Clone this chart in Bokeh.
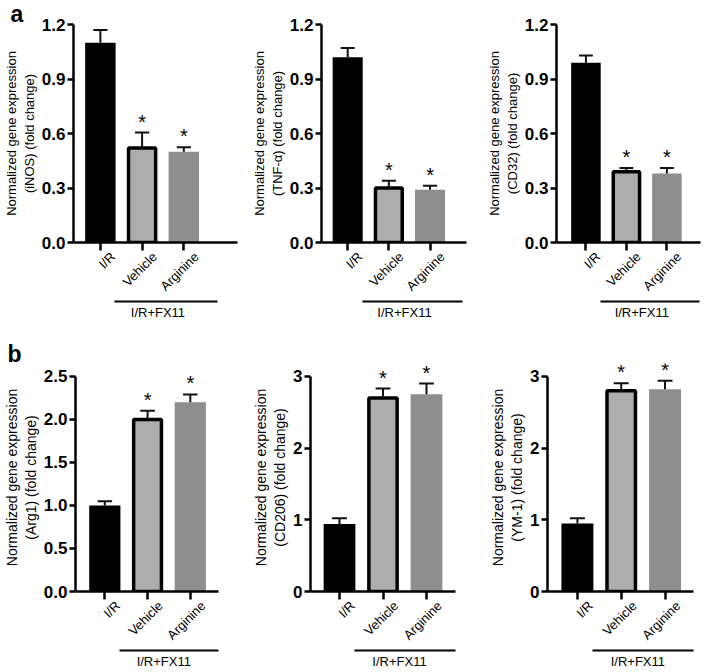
import math
from bokeh.plotting import figure
from bokeh.layouts import row, column
from bokeh.models import Range1d, FixedTicker, LinearAxis, NumeralTickFormatter, Title
from bokeh.embed import file_html
from bokeh.resources import INLINE
from bokeh.core.properties import value

# ---------------- data ----------------
groups = ["I/R", "Vehicle", "Arginine"]
group_caption = "I/R+FX11"
y_title = "Normalized gene expression"
significant = [False, True, True]

inos_mean = [1.10, 0.52, 0.50]
inos_err = [0.07, 0.085, 0.025]
tnf_mean = [1.02, 0.30, 0.29]
tnf_err = [0.05, 0.04, 0.022]
cd32_mean = [0.99, 0.39, 0.38]
cd32_err = [0.04, 0.02, 0.03]
arg1_mean = [1.00, 2.00, 2.20]
arg1_err = [0.05, 0.10, 0.09]
cd206_mean = [0.94, 2.70, 2.75]
cd206_err = [0.08, 0.13, 0.15]
ym1_mean = [0.95, 2.80, 2.82]
ym1_err = [0.07, 0.105, 0.12]

ticks_a = [0, 0.3, 0.6, 0.9, 1.2]
ticks_b1 = [0, 0.5, 1.0, 1.5, 2.0, 2.5]
ticks_b2 = [0, 1, 2, 3]

# ---------------- style ----------------
FONT = "Liberation Sans"
BAR_COLORS = ["#000000", "#adadad", "#8e8e8e"]
LAB_SHIFT = 0.3


def make_panel(gene, mean, err, ticks, fmt, xr, fw, bl, br, bt, bb,
               data_h, pad_px, ylab_size, letter=None, letter_standoff=0):
    ymax = ticks[-1]
    ppu = data_h / ymax
    y_end = ymax + pad_px / ppu
    fh = data_h + pad_px
    p = figure(width=bl + fw + br, height=bt + fh + bb,
               x_range=Range1d(*xr), y_range=Range1d(0, y_end),
               output_backend="svg", toolbar_location=None, title=None,
               min_border_left=bl, min_border_right=br,
               min_border_top=bt, min_border_bottom=bb)
    p.outline_line_color = None
    p.xgrid.visible = False
    p.ygrid.visible = False
    p.background_fill_color = "white"
    p.border_fill_color = "white"

    if letter is not None:
        p.title = Title(text=letter, align="left", offset=-(bl - 3),
                        text_font=FONT, text_font_size="23px",
                        text_font_style="bold", text_color="black",
                        standoff=letter_standoff)

    xs = [1, 2, 3]
    # bars
    p.vbar(x=[xs[0], xs[2]], top=[mean[0], mean[2]], bottom=0, width=0.73,
           fill_color=[BAR_COLORS[0], BAR_COLORS[2]], line_color=None)
    p.vbar(x=[xs[1]], top=[mean[1]], bottom=0, width=0.65,
           fill_color=BAR_COLORS[1], line_color="black", line_width=3.5)
    # error bars (upper)
    tops = [m + e for m, e in zip(mean, err)]
    p.segment(x0=xs, y0=mean, x1=xs, y1=tops, line_color="#111111", line_width=2)
    p.segment(x0=[x - 0.17 for x in xs], y0=tops, x1=[x + 0.17 for x in xs], y1=tops,
              line_color="#111111", line_width=2)
    # significance stars
    sx = [x for x, s in zip(xs, significant) if s]
    sy = [t for t, s in zip(tops, significant) if s]
    p.text(x=sx, y=sy, text=["*"] * len(sx), text_align="center",
           text_baseline="alphabetic", y_offset=-11,
           text_font=value(FONT), text_font_size="20px", text_color="black")

    # y axis
    yax = p.yaxis[0]
    yax.ticker = FixedTicker(ticks=ticks)
    yax.formatter = NumeralTickFormatter(format=fmt)
    yax.bounds = (0, ymax)
    yax.axis_line_width = 2.5
    yax.major_tick_line_width = 2.5
    yax.major_tick_out = 6
    yax.major_tick_in = 0
    yax.minor_tick_out = 0
    yax.minor_tick_in = 0
    yax.major_label_text_font = FONT
    yax.major_label_text_font_size = "17px"
    yax.major_label_text_font_style = "bold"
    yax.major_label_text_color = "black"
    yax.major_label_standoff = 2
    yax.axis_label = f"{y_title}\n({gene}) (fold change)"
    yax.axis_label_text_font = FONT
    yax.axis_label_text_font_size = ylab_size
    yax.axis_label_text_font_style = "normal"
    yax.axis_label_text_color = "black"
    yax.axis_label_standoff = 2

    # x axis (ticks only)
    xax = p.xaxis[0]
    xax.ticker = FixedTicker(ticks=xs)
    xax.major_label_overrides = {x: "" for x in xs}
    xax.major_label_text_font_size = "1px"
    xax.major_label_standoff = 0
    xax.axis_line_width = 2.5
    xax.major_tick_line_width = 2.5
    xax.major_tick_out = 8
    xax.major_tick_in = 0
    xax.minor_tick_out = 0
    xax.minor_tick_in = 0

    # rotated category labels
    lab_ticks = [x + LAB_SHIFT for x in xs]
    lab = LinearAxis(ticker=FixedTicker(ticks=lab_ticks),
                     major_label_overrides={t: g for t, g in zip(lab_ticks, groups)},
                     axis_line_color=None, major_tick_line_color=None,
                     minor_tick_line_color=None, major_tick_out=0, major_tick_in=0,
                     minor_tick_out=0, minor_tick_in=0,
                     major_label_orientation=math.pi / 4, major_label_standoff=4,
                     major_label_text_font=FONT, major_label_text_font_size="13px",
                     major_label_text_color="black")
    p.add_layout(lab, "below")

    # group bracket line + caption
    grp = LinearAxis(ticker=FixedTicker(ticks=[2.38]),
                     major_label_overrides={2.38: group_caption},
                     bounds=(1.35, 3.8), axis_line_width=2, axis_line_color="black",
                     major_tick_line_color=None, minor_tick_line_color=None,
                     major_tick_out=0, major_tick_in=0, minor_tick_out=0, minor_tick_in=0,
                     major_label_standoff=3, major_label_text_font=FONT,
                     major_label_text_font_size="13px", major_label_text_color="black")
    p.add_layout(grp, "below")
    return p


# row a (height 328), row b (height 343)
f1 = make_panel("iNOS", inos_mean, inos_err, ticks_a, "0.0", (0.356, 4.287), 171,
                66, 11, 24, 86, 218, 0, "13px", "a", -4)
f2 = make_panel("TNF-α", tnf_mean, tnf_err, ticks_a, "0.0", (0.364, 3.886), 155,
                63, 17, 24, 86, 218, 0, "13px")
f3 = make_panel("CD32", cd32_mean, cd32_err, ticks_a, "0.0", (0.273, 3.83), 154,
                63, 8, 24, 86, 218, 0, "13px")
f4 = make_panel("Arg1", arg1_mean, arg1_err, ticks_b1, "0.0", (0.314, 3.66), 147,
                71, 29, 35, 78, 217, 13, "14px", "b", -6)
f5 = make_panel("CD206", cd206_mean, cd206_err, ticks_b2, "0", (0.333, 3.667), 145,
                63, 29, 35, 78, 217, 13, "14px")
f6 = make_panel("YM-1", ym1_mean, ym1_err, ticks_b2, "0", (0.317, 3.65), 146,
                63, 15, 35, 78, 217, 13, "14px")

layout = column(row(f1, f2, f3), row(f4, f5, f6))
open("out.html", "w").write(file_html(layout, INLINE))
